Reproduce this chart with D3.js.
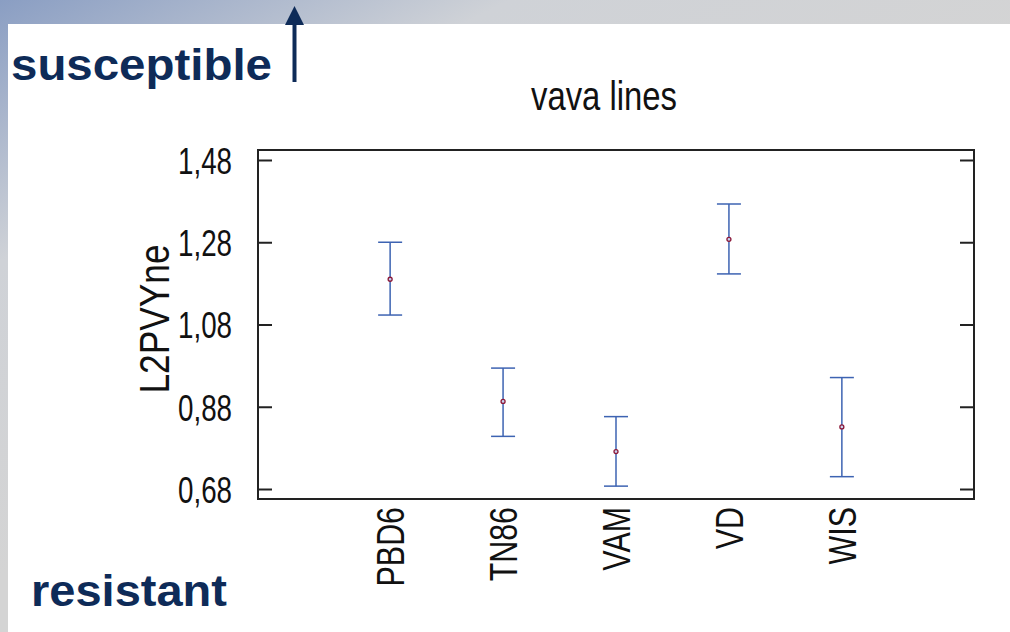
<!DOCTYPE html>
<html>
<head>
<meta charset="utf-8">
<script src="https://cdn.jsdelivr.net/npm/d3@7"></script>
<style>
  body { margin: 0; padding: 0; background: #fff; }
  svg { display: block; }
</style>
</head>
<body>
<script>
// data
var lines = ["PBD6", "TN86", "VAM", "VD", "WIS"];
var means = [1.190, 0.893, 0.771, 1.287, 0.831];
var lower = [1.103, 0.808, 0.687, 1.203, 0.710];
var upper = [1.280, 0.974, 0.856, 1.373, 0.951];
var yTicks = [0.68, 0.88, 1.08, 1.28, 1.48];

var width = 1010, height = 632;
var frame = { left: 258, right: 974, top: 150, bottom: 499 };
var navy = "#0e2b58";

var svg = d3.select("body").append("svg")
  .attr("width", width)
  .attr("height", height);

// slide background
var defs = svg.append("defs");
var grad = defs.append("linearGradient")
  .attr("id", "bg")
  .attr("x1", "0").attr("y1", "0")
  .attr("x2", "0.45").attr("y2", "0.55");
grad.append("stop").attr("offset", "0").attr("stop-color", "#8a9ec3");
grad.append("stop").attr("offset", "0.45").attr("stop-color", "#cfd2d7");
grad.append("stop").attr("offset", "1").attr("stop-color", "#d4d4d4");

svg.append("rect").attr("width", width).attr("height", height).attr("fill", "url(#bg)");
svg.append("rect").attr("x", 8).attr("y", 24).attr("width", width - 8).attr("height", height - 24).attr("fill", "#fff");

// squeeze text horizontally, the slide uses a narrow face
function narrow(sel, k) {
  sel.each(function () {
    var len = this.getComputedTextLength();
    d3.select(this).attr("textLength", len * k).attr("lengthAdjust", "spacingAndGlyphs");
  });
}

// labels on the slide
svg.append("text")
  .attr("x", 11).attr("y", 80)
  .attr("font-family", "Liberation Sans, Arial, sans-serif")
  .attr("font-weight", "bold")
  .attr("font-size", 44)
  .attr("fill", navy)
  .attr("textLength", 261).attr("lengthAdjust", "spacingAndGlyphs")
  .text("susceptible");

svg.append("text")
  .attr("x", 31).attr("y", 606)
  .attr("font-family", "Liberation Sans, Arial, sans-serif")
  .attr("font-weight", "bold")
  .attr("font-size", 44)
  .attr("fill", navy)
  .attr("textLength", 196).attr("lengthAdjust", "spacingAndGlyphs")
  .text("resistant");

svg.append("line")
  .attr("x1", 294.5).attr("x2", 294.5)
  .attr("y1", 82).attr("y2", 22)
  .attr("stroke", navy).attr("stroke-width", 4);
svg.append("path")
  .attr("d", "M285,25 L294.5,6 L304,25 Z")
  .attr("fill", navy);

// scales
var x = d3.scalePoint()
  .domain(lines)
  .range([frame.left, frame.right])
  .padding(1.17);

var y = d3.scaleLinear()
  .domain([0.6557, 1.5043])
  .range([frame.bottom, frame.top]);

var fmt = function (d) { return d3.format(".2f")(d).replace(".", ","); };

// title
var title = svg.append("text")
  .attr("x", 604).attr("y", 110)
  .attr("text-anchor", "middle")
  .attr("font-family", "Liberation Sans, Arial, sans-serif")
  .attr("font-size", 40)
  .attr("fill", "#111")
  .text("vava lines");
narrow(title, 0.82);

// axes
var yAxis = svg.append("g")
  .attr("transform", "translate(" + frame.left + ",0)")
  .call(d3.axisLeft(y).tickValues(yTicks).tickFormat(fmt).tickSize(-14).tickPadding(26));
yAxis.select(".domain").remove();
yAxis.selectAll(".tick line").attr("stroke", "#222").attr("stroke-width", 2);
yAxis.selectAll(".tick text")
  .attr("font-family", "Liberation Sans, Arial, sans-serif")
  .attr("font-size", 37)
  .attr("fill", "#111")
  .attr("dy", "0.36em")
  .call(narrow, 0.75);

var yRight = svg.append("g")
  .attr("transform", "translate(" + frame.right + ",0)")
  .call(d3.axisRight(y).tickValues(yTicks).tickFormat("").tickSize(-14));
yRight.select(".domain").remove();
yRight.selectAll(".tick line").attr("stroke", "#222").attr("stroke-width", 2);

// frame
svg.append("rect")
  .attr("x", frame.left).attr("y", frame.top)
  .attr("width", frame.right - frame.left)
  .attr("height", frame.bottom - frame.top)
  .attr("fill", "none")
  .attr("stroke", "#222")
  .attr("stroke-width", 2);

// x labels, rotated
svg.append("g").selectAll("text")
  .data(lines)
  .enter().append("text")
  .attr("transform", function (d) { return "translate(" + x(d) + ",507) rotate(-90)"; })
  .attr("text-anchor", "end")
  .attr("dy", "0.36em")
  .attr("font-family", "Liberation Sans, Arial, sans-serif")
  .attr("font-size", 38)
  .attr("fill", "#111")
  .text(function (d) { return d; })
  .call(narrow, 0.8);

// y label
var ylab = svg.append("text")
  .attr("transform", "translate(169,319) rotate(-90)")
  .attr("text-anchor", "middle")
  .attr("font-family", "Liberation Sans, Arial, sans-serif")
  .attr("font-size", 42)
  .attr("fill", "#111")
  .text("L2PVYne");
narrow(ylab, 0.84);

// error bars
var bars = svg.append("g").selectAll("g")
  .data(lines)
  .enter().append("g");

var blue = "#3d63b2";
bars.append("line")
  .attr("x1", function (d) { return x(d); })
  .attr("x2", function (d) { return x(d); })
  .attr("y1", function (d, i) { return y(upper[i]); })
  .attr("y2", function (d, i) { return y(lower[i]); })
  .attr("stroke", blue).attr("stroke-width", 1.5);
bars.append("line")
  .attr("x1", function (d) { return x(d) - 12; })
  .attr("x2", function (d) { return x(d) + 12; })
  .attr("y1", function (d, i) { return y(upper[i]); })
  .attr("y2", function (d, i) { return y(upper[i]); })
  .attr("stroke", blue).attr("stroke-width", 1.5);
bars.append("line")
  .attr("x1", function (d) { return x(d) - 12; })
  .attr("x2", function (d) { return x(d) + 12; })
  .attr("y1", function (d, i) { return y(lower[i]); })
  .attr("y2", function (d, i) { return y(lower[i]); })
  .attr("stroke", blue).attr("stroke-width", 1.5);
bars.append("circle")
  .attr("cx", function (d) { return x(d); })
  .attr("cy", function (d, i) { return y(means[i]); })
  .attr("r", 2)
  .attr("fill", "#c8d4f0")
  .attr("stroke", "#8c1838")
  .attr("stroke-width", 1.3);
</script>
</body>
</html>
